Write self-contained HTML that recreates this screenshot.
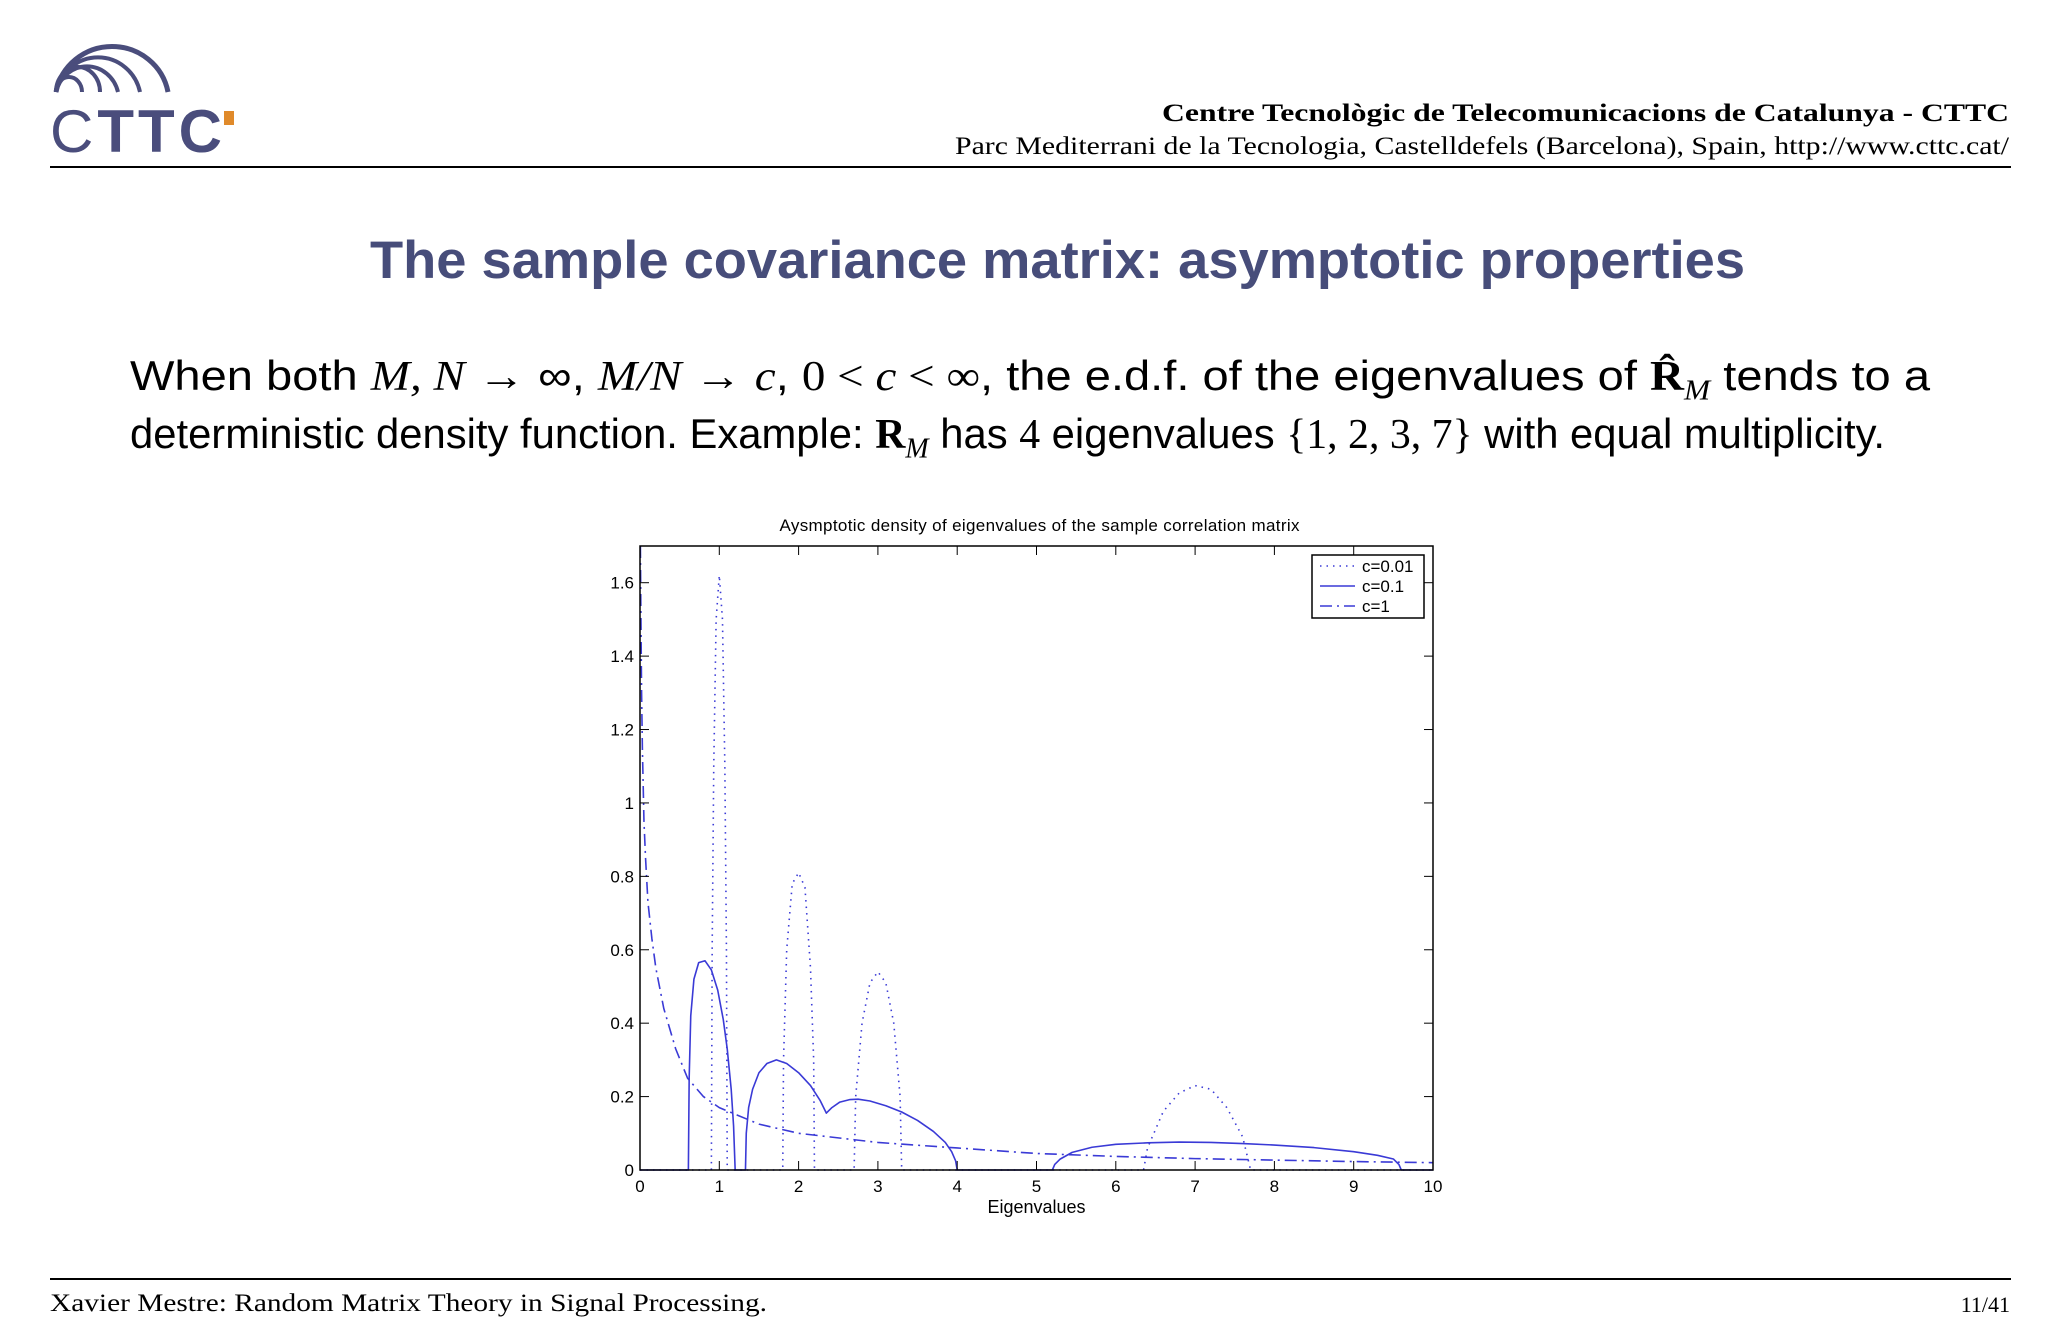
<!DOCTYPE html>
<html><head><meta charset="utf-8"><style>
body{margin:0;width:2048px;height:1340px;background:#fff;position:relative;overflow:hidden;font-family:"Liberation Serif",serif}
.abs{position:absolute;white-space:nowrap}
.fit{transform-origin:0 0}
</style></head><body>
<svg class="abs" style="left:0;top:0" width="260" height="170">
<g fill="none" stroke="#4a4d7c">
<path d="M56 92 A57 56 0 0 1 168 92" stroke-width="5"/>
<path d="M56 92 A43 44 0 0 1 140 92" stroke-width="4"/>
<path d="M56 92 A32 34 0 0 1 118 92" stroke-width="4"/>
<path d="M56 92 A22 25 0 0 1 100 92" stroke-width="4"/>
<path d="M56 92 A13 15 0 0 1 82 92" stroke-width="4"/>
</g>
<text x="50" y="152" font-family="Liberation Sans,sans-serif" font-size="60" fill="#4a4d7c" textLength="172"><tspan>C</tspan><tspan font-weight="bold">TTC</tspan></text>
<rect x="224" y="111" width="10" height="14" fill="#e08a2a"/>
</svg>
<div class="abs fit" data-w="847" style="left:1162px;top:100px;font-size:25px;font-weight:bold">Centre Tecnològic de Telecomunicacions de Catalunya - CTTC</div>
<div class="abs fit" data-w="1054" style="left:955px;top:133px;font-size:25px">Parc Mediterrani de la Tecnologia, Castelldefels (Barcelona), Spain, http://www.cttc.cat/</div>
<div class="abs" style="left:50px;top:166px;width:1961px;height:2px;background:#000"></div>
<div class="abs fit" data-w="1375" style="left:370px;top:230px;font-family:'Liberation Sans',sans-serif;font-weight:bold;font-size:53px;color:#474d7a">The sample covariance matrix: asymptotic properties</div>
<div class="abs fit" data-w="1800" style="left:130px;top:352px;font-family:'Liberation Sans',sans-serif;font-size:42px">When both <i style="font-family:'Liberation Serif'">M, N</i> → ∞, <i style="font-family:'Liberation Serif'">M/N</i> → <i style="font-family:'Liberation Serif'">c</i>, <span style="font-family:'Liberation Serif'">0 &lt; <i>c</i> &lt; ∞</span>, the e.d.f. of the eigenvalues of <b style="font-family:'Liberation Serif'">R̂</b><sub style="font-size:28px;font-family:'Liberation Serif'"><i>M</i></sub> tends to a</div>
<div class="abs fit" data-w="1755" style="left:130px;top:410px;font-family:'Liberation Sans',sans-serif;font-size:42px">deterministic density function. Example: <b style="font-family:'Liberation Serif'">R</b><sub style="font-size:28px;font-family:'Liberation Serif'"><i>M</i></sub> has <span style="font-family:'Liberation Serif'">4</span> eigenvalues <span style="font-family:'Liberation Serif'">{1, 2, 3, 7}</span> with equal multiplicity.</div>
<svg id="chart" class="abs" style="left:0;top:0" width="2048" height="1340"></svg>
<div class="abs" style="left:50px;top:1278px;width:1961px;height:2px;background:#000"></div>
<div class="abs fit" data-w="717" style="left:50px;top:1290px;font-size:25px">Xavier Mestre: Random Matrix Theory in Signal Processing.</div>
<div class="abs" style="right:38px;top:1292px;font-size:22px">11/41</div>
<script>
document.querySelectorAll('.fit').forEach(el=>{const w=el.getBoundingClientRect().width;el.style.transform='scaleX('+(parseFloat(el.dataset.w)/w)+')';});
const xTicks=[0,1,2,3,4,5,6,7,8,9,10];
const yTicks=[0,0.2,0.4,0.6,0.8,1,1.2,1.4,1.6];
const yTickLabels=["0","0.2","0.4","0.6","0.8","1","1.2","1.4","1.6"];
const c001X=[0,0.9,0.91,0.93,0.96,1.0,1.04,1.07,1.09,1.1,1.8,1.81,1.85,1.92,2.0,2.08,2.15,2.19,2.2,2.7,2.72,2.8,2.9,3.0,3.1,3.2,3.28,3.3,6.35,6.4,6.6,6.8,7.0,7.2,7.4,7.6,7.7,10];
const c001Y=[0,0,0.6,1.1,1.5,1.62,1.5,1.1,0.6,0,0,0.3,0.6,0.78,0.81,0.77,0.55,0.3,0,0,0.2,0.4,0.51,0.54,0.51,0.4,0.2,0,0,0.06,0.16,0.21,0.23,0.22,0.17,0.09,0,0];
const c01X=[0,0.61,0.62,0.64,0.68,0.74,0.82,0.9,0.98,1.05,1.1,1.15,1.18,1.2,1.33,1.34,1.37,1.42,1.5,1.6,1.72,1.85,2.0,2.15,2.27,2.35,2.42,2.52,2.65,2.75,2.9,3.1,3.3,3.5,3.7,3.85,3.93,3.98,4.0,5.2,5.23,5.3,5.45,5.7,6.0,6.4,6.8,7.2,7.6,8.0,8.5,9.0,9.3,9.5,9.57,9.6,10];
const c01Y=[0,0,0.25,0.42,0.52,0.565,0.57,0.545,0.49,0.41,0.33,0.22,0.12,0,0,0.1,0.17,0.22,0.265,0.29,0.30,0.29,0.265,0.23,0.19,0.155,0.17,0.185,0.192,0.193,0.188,0.175,0.158,0.135,0.105,0.075,0.05,0.025,0,0,0.015,0.03,0.048,0.062,0.07,0.074,0.076,0.075,0.072,0.068,0.061,0.05,0.04,0.03,0.015,0,0];
const c1X=[0.005,0.01,0.02,0.03,0.05,0.07,0.1,0.15,0.2,0.3,0.45,0.6,0.8,1.0,1.5,2.0,3.0,4.0,5.0,6.0,7.0,8.0,9.0,10];
const c1Y=[1.7,1.55,1.3,1.15,0.95,0.85,0.73,0.63,0.55,0.44,0.33,0.25,0.2,0.17,0.125,0.1,0.075,0.06,0.045,0.037,0.031,0.027,0.023,0.02];
const L=640,R=1433,T=546,B=1170,YMAX=1.7;
const sx=v=>L+(R-L)*v/10, sy=v=>B-(B-T)*v/YMAX;
const svg=document.getElementById('chart');const NS='http://www.w3.org/2000/svg';
function mk(tag,attrs,parent){const e=document.createElementNS(NS,tag);for(const k in attrs)e.setAttribute(k,attrs[k]);(parent||svg).appendChild(e);return e;}
const F='Liberation Sans,sans-serif';
let t=mk('text',{x:(L+R)/2+3,y:531,'text-anchor':'middle','font-family':F,'font-size':17,textLength:520});t.textContent='Aysmptotic density of eigenvalues of the sample correlation matrix';


function series(xs,ys,dash,name){const p=mk('polyline',{points:xs.map((x,i)=>sx(x)+','+sy(ys[i])).join(' '),fill:'none',stroke:'#3a3ad6','stroke-width':1.6,'stroke-dasharray':dash,'stroke-linejoin':'round'});

}
series(c001X,c001Y,'1.5 5','series-c-0.01');
series(c01X,c01Y,'none','series-c-0.1');
series(c1X,c1Y,'12 5 2 5','series-c-1');
let fr=mk('rect',{x:L,y:T,width:R-L,height:B-T,fill:'none',stroke:'#000','stroke-width':1.5});


xTicks.forEach(v=>{const x=sx(v);mk('line',{x1:x,x2:x,y1:B,y2:B-9,stroke:'#000'});mk('line',{x1:x,x2:x,y1:T,y2:T+9,stroke:'#000'});
const tx=mk('text',{x:x,y:B+22,'text-anchor':'middle','font-family':F,'font-size':17});tx.textContent=v;

});
yTicks.forEach((v,i)=>{const y=sy(v);mk('line',{x1:L,x2:L+9,y1:y,y2:y,stroke:'#000'});mk('line',{x1:R,x2:R-9,y1:y,y2:y,stroke:'#000'});
const ty=mk('text',{x:L-6,y:y+6,'text-anchor':'end','font-family':F,'font-size':17});ty.textContent=yTickLabels[i];

});
t=mk('text',{x:(L+R)/2,y:1213,'text-anchor':'middle','font-family':F,'font-size':18});t.textContent='Eigenvalues';


const lg=mk('g',{});


mk('rect',{x:1312,y:555,width:112,height:63,fill:'#fff',stroke:'#000','stroke-width':1.5},lg);
[['c=0.01','1.5 5'],['c=0.1','none'],['c=1','12 5 2 5']].forEach((d,i)=>{const y=566+i*20;
mk('line',{x1:1320,x2:1355,y1:y,y2:y,stroke:'#3a3ad6','stroke-width':1.6,'stroke-dasharray':d[1]},lg);
const e=mk('text',{x:1362,y:y+6,'font-family':F,'font-size':17},lg);e.textContent=d[0];

});
</script>
</body></html>
